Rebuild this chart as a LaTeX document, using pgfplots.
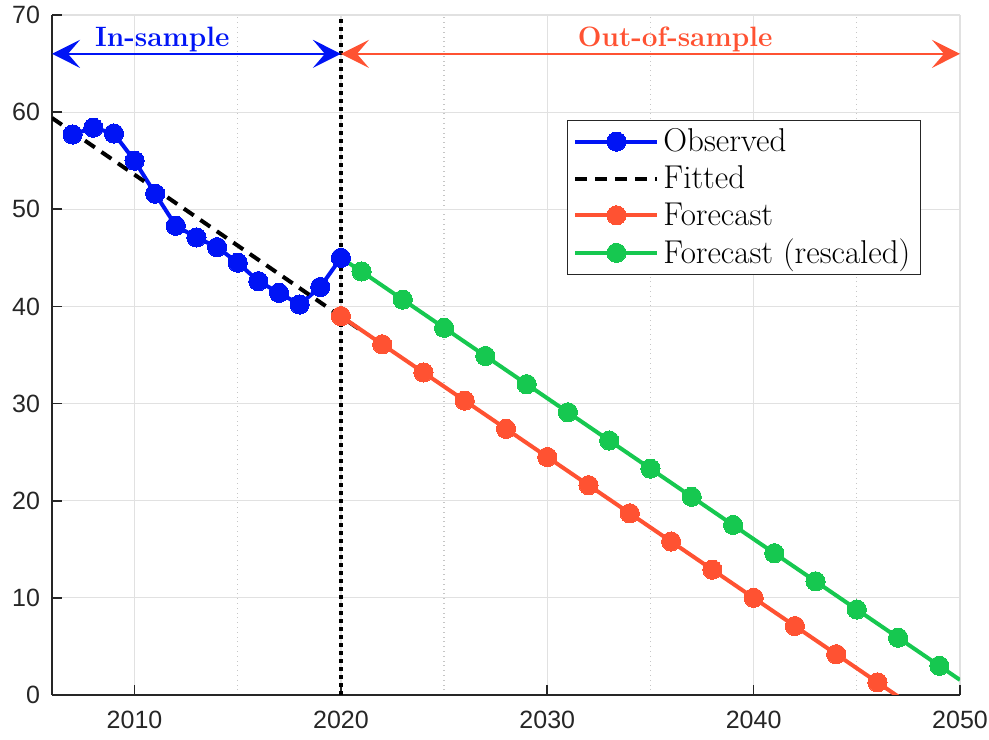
\documentclass[border=0pt]{standalone}
\usepackage{fontspec}
\usepackage{pgfplots}
\pgfplotsset{compat=1.18}
\usetikzlibrary{arrows.meta,calc}
\newfontfamily\tickfont{Liberation Sans}
\definecolor{obsblue}{RGB}{0,20,245}
\definecolor{fcred}{RGB}{255,82,50}
\definecolor{fcgreen}{RGB}{22,200,80}
\definecolor{gridgray}{RGB}{225,225,225}
\definecolor{axisgray}{RGB}{38,38,38}

\begin{document}
\begin{tikzpicture}
\begin{axis}[
    scale only axis,
    width=454pt, height=340pt,
    xmin=2006, xmax=2050, ymin=0, ymax=70,
    xtick={2010,2020,...,2050},
    ytick={0,10,...,70},
    minor x tick num=1,
    axis lines*=left,
    axis line style={axisgray, line width=0.8pt},
    tick align=inside,
    major tick length=5pt, minor tick length=0pt,
    tick style={axisgray, line width=0.8pt},
    grid=both,
    major grid style={gridgray, line width=0.6pt},
    minor grid style={gray!45, dotted, line width=0.6pt},
    /pgf/number format/1000 sep={},
    /pgf/number format/assume math mode=true,
    ticklabel style={font=\tickfont\fontsize{12.5}{12.5}\selectfont, text=axisgray},
    xticklabel style={yshift=-4.5pt},
    yticklabel style={xshift=-2.5pt},
    legend style={at={(0.567,0.8456)}, anchor=north west,
        draw=axisgray, line width=0.6pt,
        font=\fontsize{16.5}{19}\selectfont,
        row sep=1.5pt, inner ysep=2pt},
    legend cell align=left,
    legend image code/.code={
        \draw[#1] (0pt,0pt) -- (41pt,0pt);
        \path[#1, solid] plot coordinates {(20.5pt,0pt)};},
]
\addlegendimage{obsblue, line width=2pt, mark=*, mark size=4.8pt,
    mark options={solid, fill=obsblue, draw=obsblue, line width=0pt}}
\addlegendentry{Observed}
\addlegendimage{black, line width=2pt, dash pattern=on 6pt off 4pt}
\addlegendentry{Fitted}
\addlegendimage{fcred, line width=2pt, mark=*, mark size=4.8pt,
    mark options={solid, fill=fcred, draw=fcred, line width=0pt}}
\addlegendentry{Forecast}
\addlegendimage{fcgreen, line width=2pt, mark=*, mark size=4.8pt,
    mark options={solid, fill=fcgreen, draw=fcgreen, line width=0pt}}
\addlegendentry{Forecast (rescaled)}

% observed series
\addplot[forget plot, obsblue, line width=2pt, mark=*, mark size=4.8pt,
    mark options={solid, fill=obsblue, draw=obsblue, line width=0pt}]
coordinates {
(2007,57.7) (2008,58.4) (2009,57.8) (2010,55.0) (2011,51.6)
(2012,48.3) (2013,47.1) (2014,46.1) (2015,44.5) (2016,42.6)
(2017,41.4) (2018,40.2) (2019,42.0) (2020,45.0)
};

% fitted trend
\addplot[forget plot, black, line width=2pt, dash pattern=on 6pt off 4pt]
coordinates {(2006,59.4) (2021,37.5)};

% forecast
\addplot[forget plot, fcred, line width=2pt, mark=*, mark size=4.8pt, mark indices={1,...,14},
    mark options={solid, fill=fcred, draw=fcred, line width=0pt}]
coordinates {
(2020,39.0) (2022,36.1) (2024,33.2) (2026,30.3) (2028,27.4)
(2030,24.5) (2032,21.6) (2034,18.7) (2036,15.8) (2038,12.9)
(2040,10.0) (2042,7.1) (2044,4.2) (2046,1.3) (2047,-0.15)
};

% forecast, rescaled
\addplot[forget plot, fcgreen, line width=2pt, mark=*, mark size=4.8pt, mark indices={2,...,16},
    mark options={solid, fill=fcgreen, draw=fcgreen, line width=0pt}]
coordinates {
(2020,45.0) (2021,43.6) (2023,40.7) (2025,37.8) (2027,34.9)
(2029,32.0) (2031,29.1) (2033,26.2) (2035,23.3) (2037,20.4)
(2039,17.5) (2041,14.6) (2043,11.7) (2045,8.8) (2047,5.9)
(2049,3.0) (2050,1.55)
};

\draw[black, line width=2pt, dash pattern=on 2pt off 2pt]
    (axis cs:2020,0) -- (axis cs:2020,70);

\draw[obsblue, line width=1.3pt,
    {Stealth[length=14pt,width=14pt,inset=6pt]}-{Stealth[length=14pt,width=14pt,inset=6pt]}]
    (axis cs:2006,66) -- (axis cs:2020,66);
\draw[fcred, line width=1.3pt,
    {Stealth[length=14pt,width=14pt,inset=6pt]}-{Stealth[length=14pt,width=14pt,inset=6pt]}]
    (axis cs:2020,66) -- (axis cs:2050,66);
\node[obsblue, anchor=base, font=\fontsize{14}{14}\selectfont\bfseries]
    at (axis cs:2011.35,66.8) {In-sample};
\node[fcred, anchor=base, font=\fontsize{14}{14}\selectfont\bfseries]
    at (axis cs:2036.2,66.8) {Out-of-sample};
\end{axis}
\pgfresetboundingbox
\path[use as bounding box] ($(current axis.south west)+(-26pt,-22.5pt)$)
    rectangle ($(current axis.north east)+(14.5pt,7.5pt)$);
\end{tikzpicture}
\end{document}
